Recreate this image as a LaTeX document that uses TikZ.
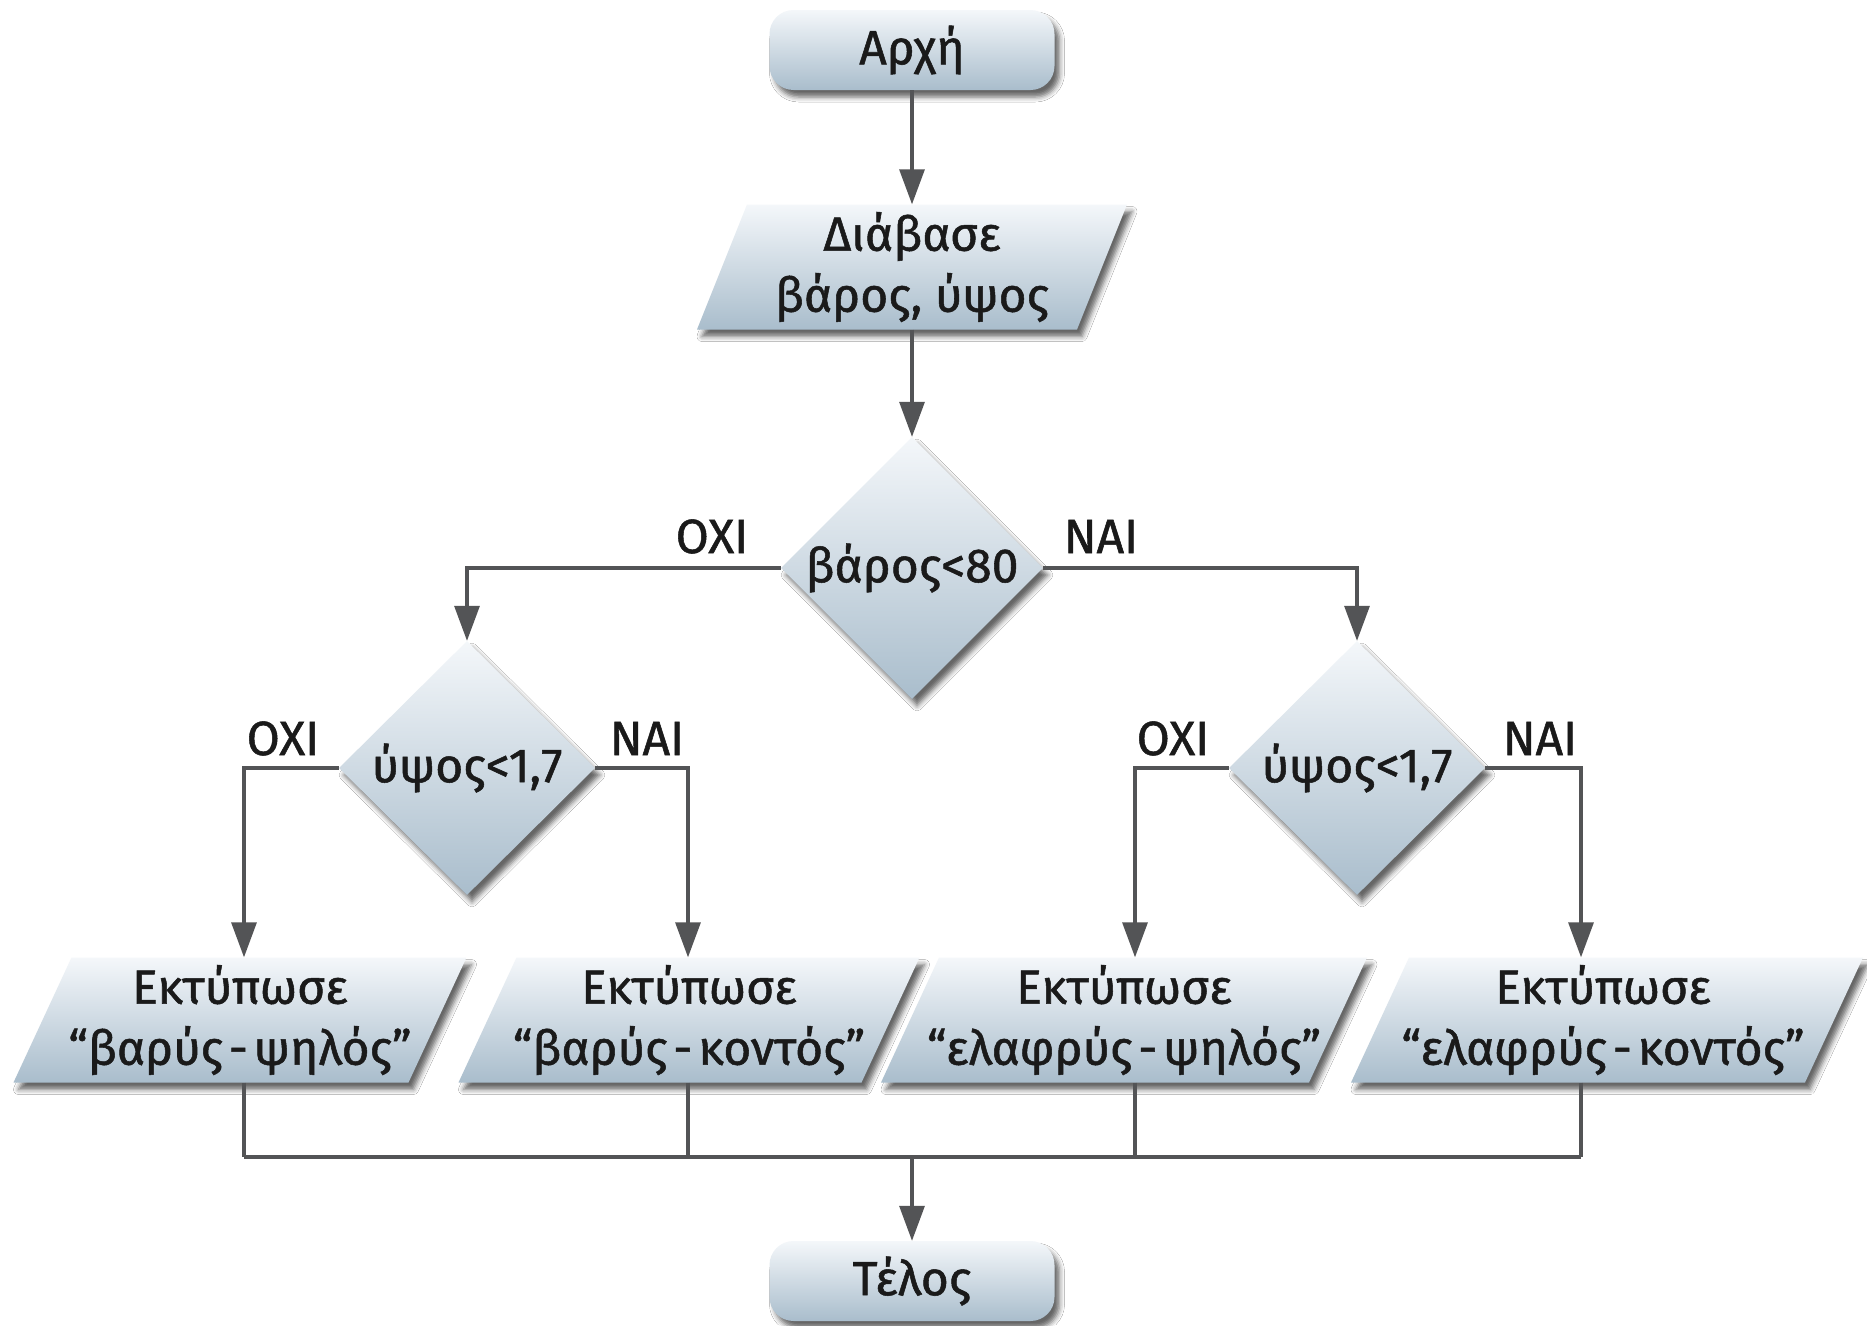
\documentclass[tikz,border=0pt]{standalone}
\usepackage{fontspec}
\setmainfont{Fira Sans}[BoldFont=Fira Sans, BoldFeatures={FakeBold=1.1}]
\usetikzlibrary{arrows.meta,shapes.geometric,shadows.blur}

\definecolor{inkc}{HTML}{1A1A1A}
\definecolor{linec}{HTML}{535456}
\definecolor{fillTop}{HTML}{F4F7FA}
\definecolor{fillBot}{HTML}{A9BDCC}

\tikzset{
  shapefill/.style={top color=fillTop, bottom color=fillBot, draw=none,
    blur shadow={shadow xshift=5pt, shadow yshift=-7pt,
                 shadow blur radius=5pt, shadow opacity=60}},
  txt/.style={text=inkc, font=\fontsize{48}{61}\selectfont\bfseries},
  terminal/.style={shapefill, txt, rounded corners=24pt,
    minimum width=285pt, minimum height=80pt, inner sep=0pt},
  decision/.style={shapefill, txt, diamond, aspect=1,
    minimum width=256pt, minimum height=254pt, inner sep=0pt},
  iotext/.style={txt, align=center, inner sep=0pt, minimum height=125pt},
  lbl/.style={txt, anchor=base, inner sep=0pt},
  conn/.style={draw=linec, line width=3.2pt},
  arr/.style={conn, -{Triangle[width=25pt,length=35pt]}},
}

% slanted input/output frame: centre x, centre y, side length, slant
\newcommand\ioframe[4]{%
  \path[shapefill]
    ({#1-#3/2-#4/2},{#2+62.5}) -- ({#1+#3/2-#4/2},{#2+62.5}) --
    ({#1+#3/2+#4/2},{#2-62.5}) -- ({#1-#3/2+#4/2},{#2-62.5}) -- cycle;}
% tight dash between the two words of a printed result
\newcommand\wdash{\hspace{0.12em}-\hspace{0.12em}}

\begin{document}
\begin{tikzpicture}[x=1pt, y=-1pt]
  \fill[white] (0,0) rectangle (1867,1325);
  \useasboundingbox (0,0) rectangle (1867,1325);

  % terminals and decisions
  \node[terminal] (start) at (912,50) {Αρχή};
  \ioframe{912}{267}{380}{50}
  \node[iotext] (read) at (912,267) {Διάβασε\\βάρος, ύψος};

  \node[decision] (d1) at (912,568) {βάρος<80};
  \node[decision] (d2) at (467,768) {ύψος<1,7};
  \node[decision] (d3) at (1357,768) {ύψος<1,7};

  % output frames
  \ioframe{240}{1020}{395}{58}
  \node[iotext] (b1) at (240,1020) {Εκτύπωσε\\“βαρύς\wdash ψηλός”};
  \ioframe{689}{1020}{403}{58}
  \node[iotext] (b2) at (689,1020) {Εκτύπωσε\\“βαρύς\wdash κοντός”};
  \ioframe{1124}{1020}{428}{58}
  \node[iotext] (b3) at (1124,1020) {Εκτύπωσε\\“ελαφρύς\wdash ψηλός”};
  \ioframe{1607}{1020}{454}{58}
  \node[iotext] (b4) at (1603,1020) {Εκτύπωσε\\“ελαφρύς\wdash κοντός”};

  \node[terminal] (end) at (912,1281) {Τέλος};

  % branch corners and collector line
  \coordinate (a1) at (244,768);
  \coordinate (a2) at (688,768);
  \coordinate (a3) at (1135,768);
  \coordinate (a4) at (1581,768);
  \coordinate (m1) at (244,1157);
  \coordinate (m4) at (1581,1157);
  \coordinate (mj) at (912,1157);

  % connectors
  \draw[arr] (start) -- (read);
  \draw[arr] (read) -- (d1);
  \draw[arr] (d1.west) -| (d2.north);
  \draw[arr] (d1.east) -| (d3.north);
  \draw[arr] (d2.west) -- (a1) -- (a1 |- b1.north);
  \draw[arr] (d2.east) -- (a2) -- (a2 |- b2.north);
  \draw[arr] (d3.west) -- (a3) -- (a3 |- b3.north);
  \draw[arr] (d3.east) -- (a4) -- (a4 |- b4.north);

  \draw[conn] (a1 |- b1.south) -- (m1);
  \draw[conn] (a2 |- b2.south) -- (a2 |- m1);
  \draw[conn] (a3 |- b3.south) -- (a3 |- m1);
  \draw[conn] (a4 |- b4.south) -- (m4);
  \draw[conn] (m1) -- (m4);
  \draw[arr] (mj) -- (end);

  % branch labels
  \node[lbl] (n1) at (712,553) {ΟΧΙ};
  \node[lbl] (y1) at (1101,553) {ΝΑΙ};
  \node[lbl] (n2) at (283,755) {ΟΧΙ};
  \node[lbl] (y2) at (647,755) {ΝΑΙ};
  \node[lbl] (n3) at (1173,755) {ΟΧΙ};
  \node[lbl] (y3) at (1540,755) {ΝΑΙ};
\end{tikzpicture}
\end{document}
